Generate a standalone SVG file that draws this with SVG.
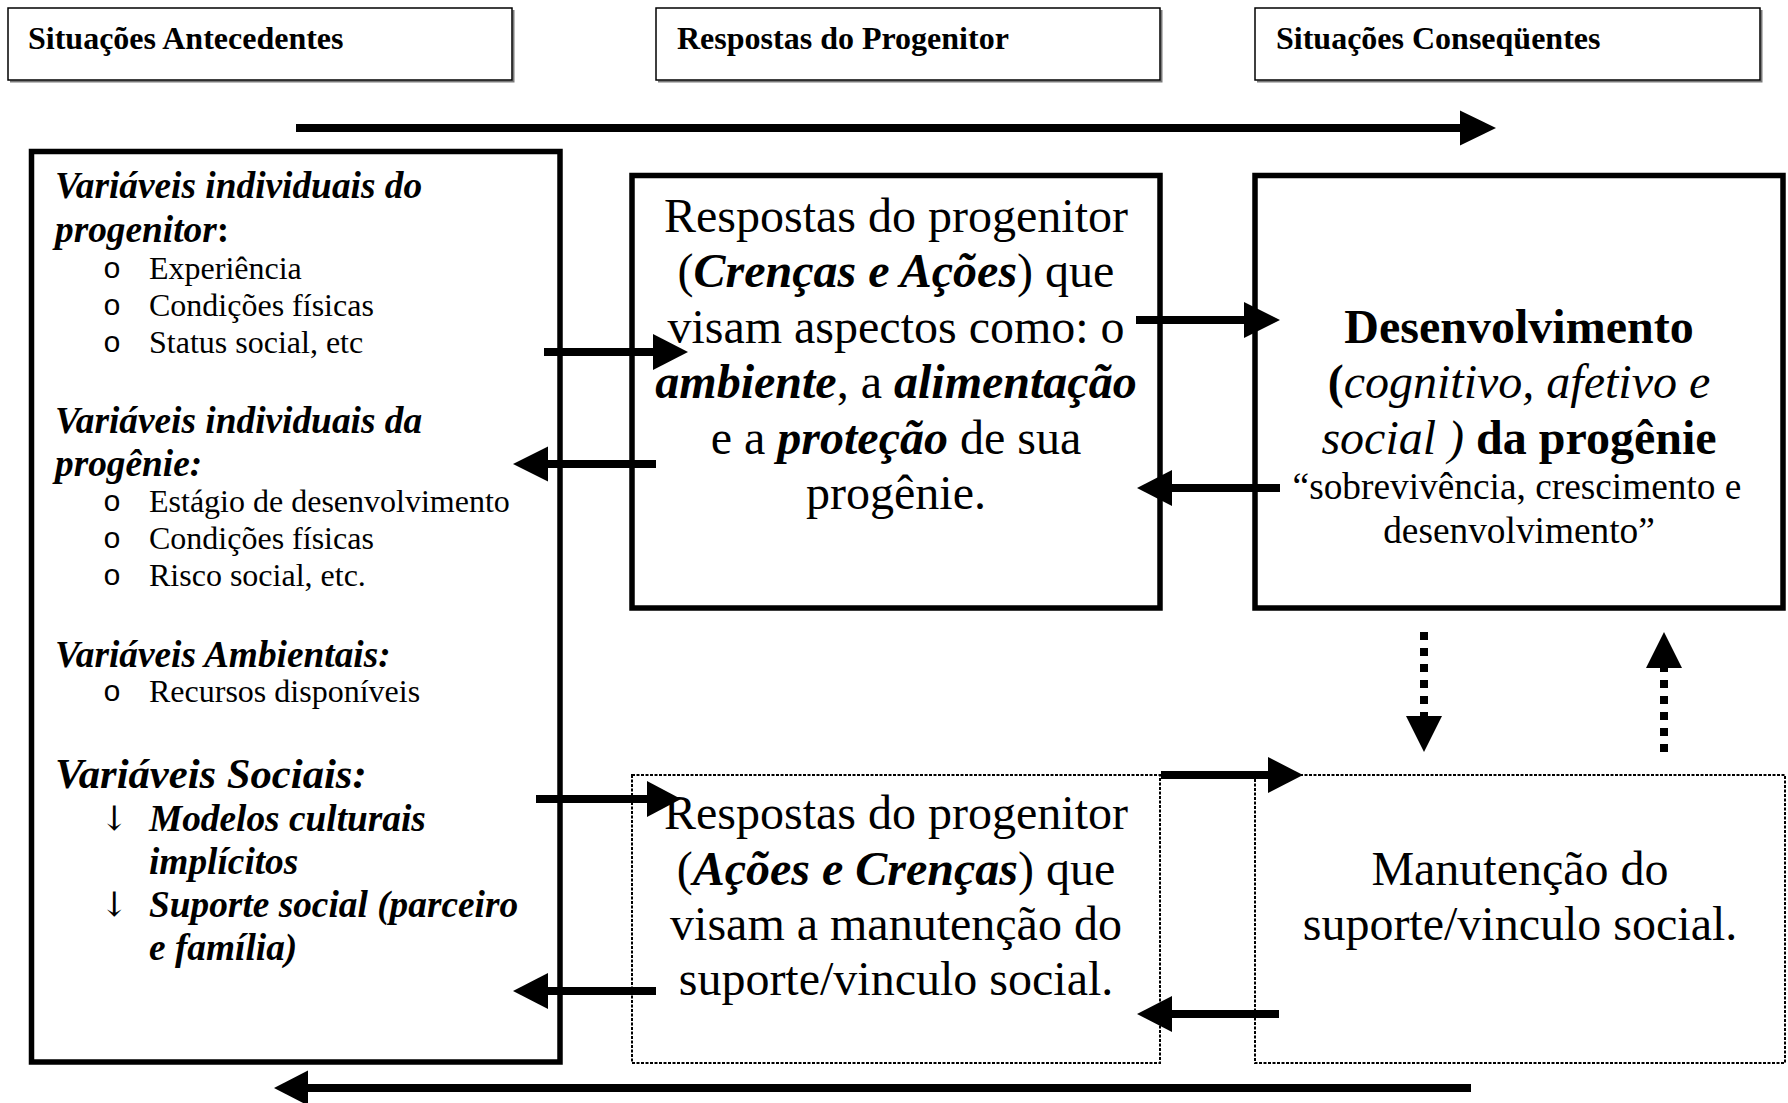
<svg xmlns="http://www.w3.org/2000/svg" width="1788" height="1103" viewBox="0 0 1788 1103">
<defs>
<style>
text{font-family:"Liberation Serif","Times New Roman",serif;fill:#000}
.hdr{fill:#fff;stroke:#000;stroke-width:1.5}
.shadow{fill:none;stroke:#7a7a7a;stroke-width:2}
.ht{font-size:32px;font-weight:bold}
.solid{fill:#fff;stroke:#000;stroke-width:5.5}
.dot{fill:none;stroke:#000;stroke-width:2;stroke-dasharray:3 1.5}
.h14{font-size:37.33px;font-weight:bold;font-style:italic}
.h16{font-size:42.67px;font-weight:bold;font-style:italic}
.li{font-size:32px}
.bul{font-size:30px;font-family:"Liberation Mono","Courier New",monospace}
.arr{font-size:34px;font-family:"DejaVu Serif","DejaVu Sans",serif}
.big{font-size:48px;text-anchor:middle}
.mid{font-size:37.33px;text-anchor:middle}
.bi{font-weight:bold;font-style:italic}
.b{font-weight:bold}
.i{font-style:italic}
.shaft{stroke:#000;stroke-width:8;fill:none}
.dash{stroke:#000;stroke-width:8;fill:none;stroke-dasharray:8 8}
.head{fill:#000}
</style>
</defs>
<rect width="1788" height="1103" fill="#fff"/>

<g id="header-antecedentes">
<polyline class="shadow" points="10,81.5 513.5,81.5 513.5,10"/>
<rect class="hdr" x="8" y="8" width="504" height="72"/>
<text class="ht" x="28" y="49">Situações Antecedentes</text>
</g>
<g id="header-respostas">
<polyline class="shadow" points="658,81.5 1161.5,81.5 1161.5,10"/>
<rect class="hdr" x="656" y="8" width="504" height="72"/>
<text class="ht" x="677" y="49">Respostas do Progenitor</text>
</g>
<g id="header-consequentes">
<polyline class="shadow" points="1257,81.5 1761.5,81.5 1761.5,10"/>
<rect class="hdr" x="1255" y="8" width="505" height="72"/>
<text class="ht" x="1276" y="49">Situações Conseqüentes</text>
</g>

<g id="node-variaveis">
<rect class="solid" x="31.5" y="151.5" width="528.5" height="910.5"/>
<text class="h14" x="55" y="198">Variáveis individuais do</text>
<text class="h14" x="55" y="242">progenitor<tspan font-style="normal">:</tspan></text>
<text class="bul" x="103" y="278">o</text><text class="li" x="149" y="279">Experiência</text>
<text class="bul" x="103" y="315">o</text><text class="li" x="149" y="316">Condições físicas</text>
<text class="bul" x="103" y="352">o</text><text class="li" x="149" y="353">Status social, etc</text>
<text class="h14" x="55" y="433">Variáveis individuais da</text>
<text class="h14" x="55" y="476">progênie:</text>
<text class="bul" x="103" y="511">o</text><text class="li" x="149" y="512">Estágio de desenvolvimento</text>
<text class="bul" x="103" y="548">o</text><text class="li" x="149" y="549">Condições físicas</text>
<text class="bul" x="103" y="585">o</text><text class="li" x="149" y="586">Risco social, etc.</text>
<text class="h14" x="55" y="667">Variáveis Ambientais:</text>
<text class="bul" x="103" y="701">o</text><text class="li" x="149" y="702">Recursos disponíveis</text>
<text class="h16" x="55" y="788">Variáveis Sociais:</text>
<text class="arr" x="100" y="830">↓</text><text class="h14" x="149" y="831">Modelos culturais</text>
<text class="h14" x="149" y="874">implícitos</text>
<text class="arr" x="100" y="916">↓</text><text class="h14" x="149" y="917">Suporte social (parceiro</text>
<text class="h14" x="149" y="960">e família)</text>
</g>

<g id="node-respostas-progenie">
<rect class="solid" x="632" y="175.5" width="528" height="432.5"/>
<text class="big" x="896" y="232">Respostas do progenitor</text>
<text class="big" x="896" y="287">(<tspan class="bi">Crenças e Ações</tspan>) que</text>
<text class="big" x="896" y="343">visam aspectos como: o</text>
<text class="big" x="896" y="398"><tspan class="bi">ambiente</tspan>, a <tspan class="bi">alimentação</tspan></text>
<text class="big" x="896" y="454">e a <tspan class="bi">proteção</tspan> de sua</text>
<text class="big" x="896" y="509">progênie.</text>
</g>

<g id="node-desenvolvimento">
<rect class="solid" x="1255" y="175.5" width="528" height="432.5"/>
<text class="big b" x="1519" y="343">Desenvolvimento</text>
<text class="big" x="1519" y="398"><tspan class="b">(</tspan><tspan class="i">cognitivo, afetivo e</tspan></text>
<text class="big" x="1519" y="454"><tspan class="i">social ) </tspan><tspan class="b">da progênie</tspan></text>
<text class="mid" x="1517" y="499">“sobrevivência, crescimento e</text>
<text class="mid" x="1519" y="543">desenvolvimento”</text>
</g>

<g id="node-respostas-suporte">
<rect class="dot" x="632" y="775" width="528" height="288"/>
<text class="big" x="896" y="829">Respostas do progenitor</text>
<text class="big" x="896" y="885">(<tspan class="bi">Ações e Crenças</tspan>) que</text>
<text class="big" x="896" y="940">visam a manutenção do</text>
<text class="big" x="896" y="995">suporte/vinculo social.</text>
</g>

<g id="node-manutencao">
<rect class="dot" x="1255" y="775" width="530" height="288"/>
<text class="big" x="1520" y="885">Manutenção do</text>
<text class="big" x="1520" y="940">suporte/vinculo social.</text>
</g>

<g id="connectors">
<line class="shaft" x1="296" y1="128" x2="1462" y2="128"/>
<polygon class="head" points="1460,110.5 1496,128 1460,145.5"/>
<line class="shaft" x1="1471" y1="1088" x2="306" y2="1088"/>
<polygon class="head" points="308,1070.5 274,1088 308,1105.5"/>
<line class="shaft" x1="544" y1="352" x2="655" y2="352"/>
<polygon class="head" points="653,334 688,352 653,370"/>
<line class="shaft" x1="656" y1="464" x2="546" y2="464"/>
<polygon class="head" points="548,446.5 513,464 548,481.5"/>
<line class="shaft" x1="1136" y1="320" x2="1246" y2="320"/>
<polygon class="head" points="1244,302 1280,320 1244,338"/>
<line class="shaft" x1="1280" y1="488" x2="1170" y2="488"/>
<polygon class="head" points="1172,470 1137,488 1172,506"/>
<line class="shaft" x1="536" y1="799" x2="649" y2="799"/>
<polygon class="head" points="647,781 681,799 647,817"/>
<line class="shaft" x1="656" y1="991" x2="546" y2="991"/>
<polygon class="head" points="548,973 513,991 548,1009"/>
<line class="shaft" x1="1161" y1="775" x2="1270" y2="775"/>
<polygon class="head" points="1268,757 1303,775 1268,793"/>
<line class="shaft" x1="1279" y1="1014" x2="1170" y2="1014"/>
<polygon class="head" points="1172,996 1137,1014 1172,1032"/>
<line class="dash" x1="1424" y1="632" x2="1424" y2="718"/>
<polygon class="head" points="1406,716 1442,716 1424,752"/>
<line class="dash" x1="1664" y1="752" x2="1664" y2="666"/>
<polygon class="head" points="1646,668 1682,668 1664,632"/>
</g>
</svg>
